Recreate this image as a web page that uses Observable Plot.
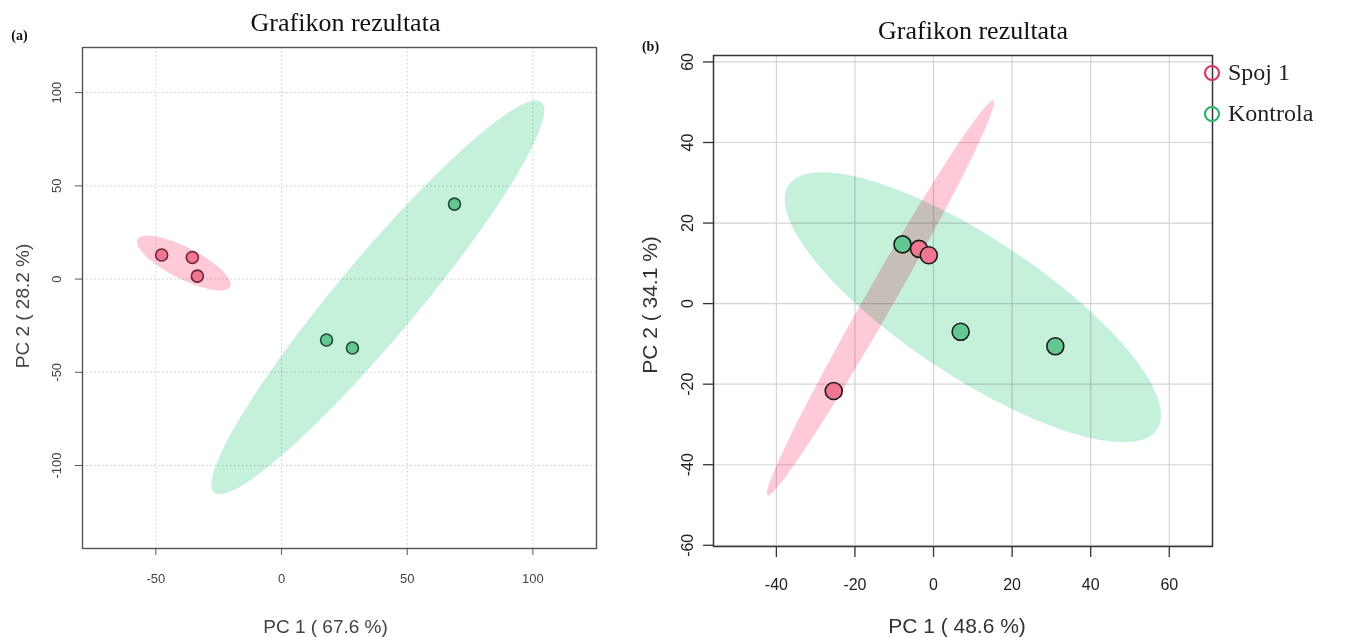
<!DOCTYPE html>
<html>
<head>
<meta charset="utf-8">
<script src="https://cdn.jsdelivr.net/npm/d3@7"></script>
<script src="https://cdn.jsdelivr.net/npm/@observablehq/plot@0.6"></script>
<style>
  html, body { margin: 0; padding: 0; background: #fff; }
  body { width: 1362px; height: 637px; position: relative; overflow: hidden; }
  #panelA { position: absolute; left: 0; top: 0; }
  #panelB { position: absolute; left: 620px; top: 0; }
  #legend { position: absolute; left: 1202px; top: 52px; font-family: "Liberation Serif", "Times New Roman", serif; font-size: 24px; color: #222; }
  #legend .item { display: flex; align-items: center; height: 41px; }
  #legend svg { margin-right: 6px; }
</style>
</head>
<body>
<div id="panelA"></div>
<div id="panelB"></div>
<div id="legend"></div>
<script>
// ---- shared ----
const groups = ["Spoj 1", "Kontrola"];
const groupFill = ["#ff4f7b", "#3fcf85"];
const pointFill = ["#f0778f", "#63c890"];
const legendStroke = ["#d33a68", "#2fb56c"];
const chartTitle = "Grafikon rezultata";

// ---- panel (a) scores ----
const aGroup = ["Spoj 1", "Spoj 1", "Spoj 1", "Kontrola", "Kontrola", "Kontrola"];
const aPC1 = [-47.7, -35.5, -33.5, 17.9, 28.2, 68.8];
const aPC2 = [12.9, 11.6, 1.6, -32.7, -37.0, 40.2];
// confidence ellipses: centre, major and minor semi-axis vectors (data units)
const aEllipseCenter = [[-38.9, 8.6], [38.3, -9.8]];
const aEllipseMajor = [[18.4, -12.65], [65.1, 104.7]];
const aEllipseMinor = [[-2.8, -7.5], [12.2, -13.8]];
const aXTicks = [-50, 0, 50, 100];
const aYTicks = [-100, -50, 0, 50, 100];
const aXLabel = "PC 1 ( 67.6 %)";
const aYLabel = "PC 2 ( 28.2 %)";

// ---- panel (b) scores ----
const bGroup = ["Spoj 1", "Spoj 1", "Spoj 1", "Kontrola", "Kontrola", "Kontrola"];
const bPC1 = [-25.4, -3.7, -1.2, -7.9, 6.9, 31.0];
const bPC2 = [-21.7, 13.6, 12.0, 14.7, -7.0, -10.6];
const bEllipseCenter = [[-13.5, 1.4], [10.0, -0.9]];
const bEllipseMajor = [[28.75, 49.0], [46.9, -30.3]];
const bEllipseMinor = [[3.1, -1.74], [-9.7, -14.3]];
const bXTicks = [-40, -20, 0, 20, 40, 60];
const bYTicks = [-60, -40, -20, 0, 20, 40, 60];
const bXLabel = "PC 1 ( 48.6 %)";
const bYLabel = "PC 2 ( 34.1 %)";

// outline of an ellipse given its centre and two conjugate semi-axes
function ellipseOutline(gi, center, major, minor) {
  const n = 144;
  return d3.range(n).map(i => {
    const t = 2 * Math.PI * i / n;
    return {
      group: groups[gi],
      x: center[0] + Math.cos(t) * major[0] + Math.sin(t) * minor[0],
      y: center[1] + Math.cos(t) * major[1] + Math.sin(t) * minor[1]
    };
  });
}

function scores(groupArr, xs, ys) {
  return xs.map((x, i) => ({group: groupArr[i], x, y: ys[i], gi: groups.indexOf(groupArr[i])}));
}

const sans = "Liberation Sans, Arial, sans-serif";
const serif = "Liberation Serif, Times New Roman, serif";
const mid = {textAnchor: "middle", lineAnchor: "middle"};

// ---------- panel (a) ----------
{
  const pts = scores(aGroup, aPC1, aPC2);
  const ells = groups.map((g, i) => ellipseOutline(i, aEllipseCenter[i], aEllipseMajor[i], aEllipseMinor[i]));
  const chart = Plot.plot({
    width: 620,
    height: 637,
    marginLeft: 82,
    marginRight: 24,
    marginTop: 47,
    marginBottom: 89,
    style: {background: "#fff", fontFamily: sans},
    x: {domain: [-79.2, 125.3]},
    y: {domain: [-144.5, 124.2]},
    marks: [
      Plot.gridX(aXTicks, {stroke: "#c8c8c8", strokeOpacity: 1, strokeDasharray: "1.5,2.5"}),
      Plot.gridY(aYTicks, {stroke: "#c8c8c8", strokeOpacity: 1, strokeDasharray: "1.5,2.5"}),
      ...ells.map((e, i) => Plot.line(e, {x: "x", y: "y", curve: "linear-closed", fill: groupFill[i], fillOpacity: 0.3, stroke: "none", mixBlendMode: "multiply"})),
      ...[1, 0].map(gi => Plot.dot(pts.filter(d => d.gi === gi), {x: "x", y: "y", r: 6, fill: pointFill[gi], stroke: gi === 0 ? "#6e2435" : "#1f4a33", strokeWidth: 1.6})),
      Plot.frame({stroke: "#555", strokeWidth: 1.4}),
      Plot.axisX(aXTicks, {tickSize: 7, tickFormat: () => "", stroke: "#555", label: null}),
      Plot.axisY(aYTicks, {tickSize: 7, tickFormat: () => "", stroke: "#555", label: null}),
      Plot.text(aXTicks, {x: d => d, frameAnchor: "bottom", dy: 30, text: d => String(d), fontSize: 13, fill: "#444", ...mid}),
      Plot.text(aYTicks, {y: d => d, frameAnchor: "left", dx: -26, rotate: -90, text: d => String(d), fontSize: 13, fill: "#444", ...mid}),
      Plot.text([aXLabel], {frameAnchor: "bottom", dx: -14, dy: 78, fontSize: 19, fill: "#444", ...mid}),
      Plot.text([aYLabel], {frameAnchor: "left", dx: -60, dy: 8, rotate: -90, fontSize: 19, fill: "#444", ...mid}),
      Plot.text([chartTitle], {frameAnchor: "top", dx: 6, dy: -25, fontSize: 26, fontFamily: serif, fill: "#111", ...mid}),
      Plot.text(["(a)"], {frameAnchor: "top-left", dx: -63, dy: -12, fontSize: 14, fontWeight: "bold", fontFamily: serif, fill: "#111", ...mid})
    ]
  });
  document.getElementById("panelA").append(chart);
}

// ---------- panel (b) ----------
{
  const pts = scores(bGroup, bPC1, bPC2);
  const ells = groups.map((g, i) => ellipseOutline(i, bEllipseCenter[i], bEllipseMajor[i], bEllipseMinor[i]));
  const chart = Plot.plot({
    width: 742,
    height: 637,
    marginLeft: 93,
    marginRight: 150,
    marginTop: 55,
    marginBottom: 91,
    style: {background: "transparent", fontFamily: sans},
    x: {domain: [-56.0, 71.0]},
    y: {domain: [-60.3, 61.6]},
    marks: [
      Plot.gridX(bXTicks, {stroke: "#d4d4d4", strokeOpacity: 1, strokeWidth: 1.2}),
      Plot.gridY(bYTicks, {stroke: "#d4d4d4", strokeOpacity: 1, strokeWidth: 1.2}),
      ...ells.map((e, i) => Plot.line(e, {x: "x", y: "y", curve: "linear-closed", fill: groupFill[i], fillOpacity: 0.3, stroke: "none", mixBlendMode: "multiply"})),
      ...[1, 0].map(gi => Plot.dot(pts.filter(d => d.gi === gi), {x: "x", y: "y", r: 8.5, fill: pointFill[gi], stroke: "#1b1b1b", strokeWidth: 1.6})),
      Plot.frame({stroke: "#333", strokeWidth: 1.5}),
      Plot.axisX(bXTicks, {tickSize: 11, tickPadding: 0, tickFormat: () => "", stroke: "#333", strokeWidth: 1.3, label: null}),
      Plot.axisY(bYTicks, {tickSize: 10, tickFormat: () => "", stroke: "#333", strokeWidth: 1.3, label: null}),
      Plot.text(bXTicks, {x: d => d, frameAnchor: "bottom", dy: 38, text: d => String(d), fontSize: 16, fill: "#222", ...mid}),
      Plot.text(bYTicks, {y: d => d, frameAnchor: "left", dx: -26, rotate: -90, text: d => String(d), fontSize: 16, fill: "#222", ...mid}),
      Plot.text([bXLabel], {frameAnchor: "bottom", dx: -6, dy: 80, fontSize: 21, fill: "#333", ...mid}),
      Plot.text([bYLabel], {frameAnchor: "left", dx: -63, dy: 4, rotate: -90, fontSize: 21, fill: "#333", ...mid}),
      Plot.text([chartTitle], {frameAnchor: "top", dx: 10, dy: -25, fontSize: 26, fontFamily: serif, fill: "#111", ...mid}),
      Plot.text(["(b)"], {frameAnchor: "top-left", dx: -63, dy: -9, fontSize: 14, fontWeight: "bold", fontFamily: serif, fill: "#111", ...mid})
    ]
  });
  document.getElementById("panelB").append(chart);
}

// ---------- legend ----------
{
  const legend = document.getElementById("legend");
  groups.forEach((g, i) => {
    const item = document.createElement("div");
    item.className = "item";
    item.innerHTML = `<svg width="20" height="20"><circle cx="10" cy="10" r="7" fill="none" stroke="${legendStroke[i]}" stroke-width="2.2"/></svg><span>${g}</span>`;
    legend.append(item);
  });
}
</script>
</body>
</html>
